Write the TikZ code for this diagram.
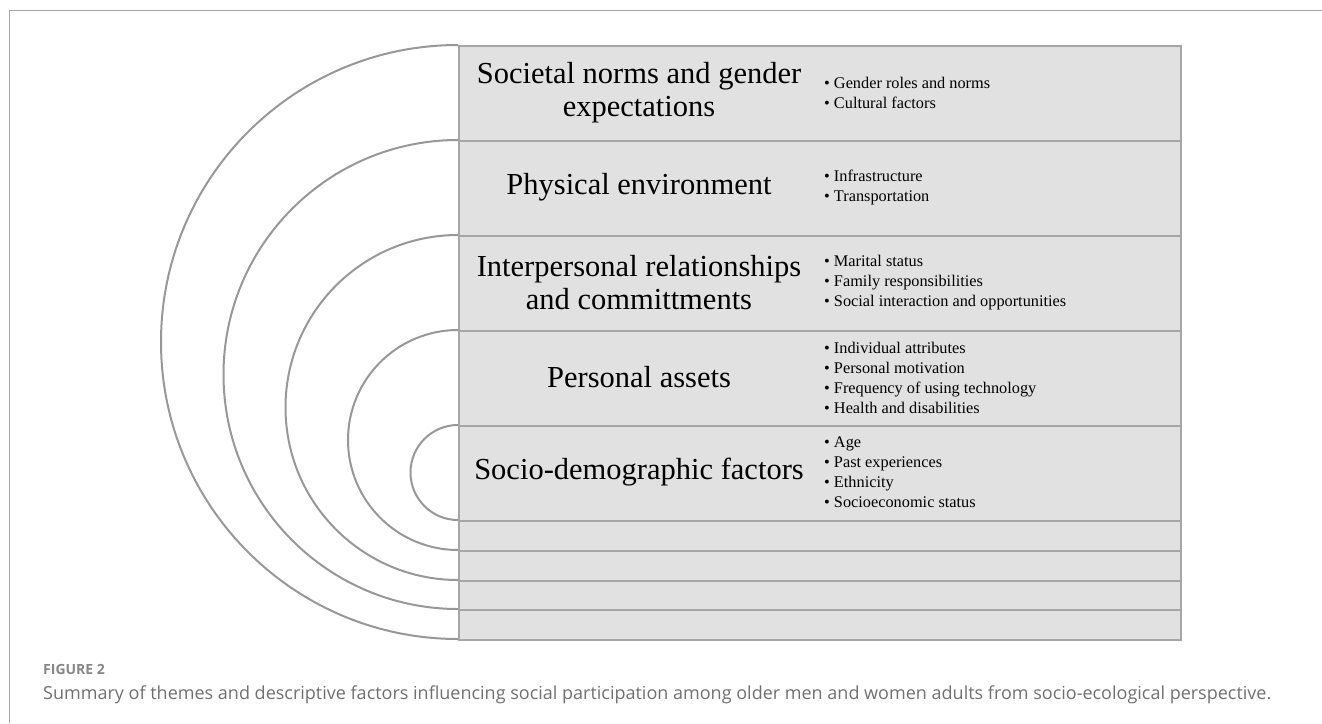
\documentclass[tikz,border=0pt]{standalone}
\usepackage{fontspec}
\setmainfont{Liberation Serif}
\newfontfamily\capfont{Open Sans}
\definecolor{boxfill}{RGB}{225,225,225}
\definecolor{boxline}{RGB}{166,166,166}
\definecolor{arcline}{RGB}{152,152,152}
\definecolor{framecol}{RGB}{165,165,165}
\definecolor{captxt}{RGB}{112,112,112}
\definecolor{figlbl}{RGB}{135,135,135}
\begin{document}
\begin{tikzpicture}[x=1pt,y=-1pt,
  rowbox/.style={draw=boxline, fill=boxfill, line width=2pt, minimum width=722pt, inner sep=0pt, anchor=north west},
  titletext/.style={font=\fontsize{30.5}{32.5}\selectfont, align=center, inner sep=0pt},
  bullets/.style={font=\fontsize{16.3}{20}\selectfont, align=left, inner sep=0pt, anchor=west},
  ring/.style={draw=arcline, line width=2pt},
  framestyle/.style={draw=framecol, line width=1pt}]
\useasboundingbox (0,0) rectangle (1322,723);
% frame
\coordinate (fbl) at (9,723);
\coordinate (ftl) at (9,10);
\coordinate (ftr) at (1322,10);
\draw[framestyle] (fbl) -- (ftl) -- (ftr);
% rows
\node[rowbox, minimum height=95pt] (r1) at (458,45) {};
\node[rowbox, minimum height=95pt] (r2) at (458,140) {};
\node[rowbox, minimum height=95pt] (r3) at (458,235) {};
\node[rowbox, minimum height=95pt] (r4) at (458,330) {};
\node[rowbox, minimum height=95pt] (r5) at (458,425) {};
\node[rowbox, minimum height=30pt] (s1) at (458,520) {};
\node[rowbox, minimum height=30pt] (s2) at (458,550) {};
\node[rowbox, minimum height=29pt] (s3) at (458,580) {};
\node[rowbox, minimum height=30pt] (s4) at (458,609) {};
% arcs
\draw[ring] (r1.north west) arc[start angle=-90, end angle=-270, radius=297];
\draw[ring] (r2.north west) arc[start angle=-90, end angle=-270, radius=234.5];
\draw[ring] (r3.north west) arc[start angle=-90, end angle=-270, radius=172.5];
\draw[ring] (r4.north west) arc[start angle=-90, end angle=-270, radius=110];
\draw[ring] (r5.north west) arc[start angle=-90, end angle=-270, radius=47.5];
% titles
\node[titletext] (t1) at (639,92.5) {Societal norms and gender\\expectations};
\node[titletext] (t2) at (639,187.5) {Physical environment};
\node[titletext] (t3) at (639,282.5) {Interpersonal relationships\\and committments};
\node[titletext] (t4) at (639,377.5) {Personal assets};
\node[titletext] (t5) at (639,472.5) {Socio-demographic factors};
% bullets
\node[bullets] (b1) at (824,92.5) {• Gender roles and norms\\• Cultural factors};
\node[bullets] (b2) at (824,187.5) {• Infrastructure\\• Transportation};
\node[bullets] (b3) at (824,282.5) {• Marital status\\• Family responsibilities\\• Social interaction and opportunities};
\node[bullets] (b4) at (824,377.5) {• Individual attributes\\• Personal motivation\\• Frequency of using technology\\• Health and disabilities};
\node[bullets] (b5) at (824,472.5) {• Age\\• Past experiences\\• Ethnicity\\• Socioeconomic status};
% caption
\node[anchor=base west, inner sep=0pt, text=figlbl, font=\capfont\bfseries\fontsize{14}{16}\selectfont] (fig) at (43,674) {FIGURE 2};
\node[anchor=base west, inner sep=0pt, text=captxt, font=\capfont\fontsize{18}{22}\selectfont] (cap) at (43,699) {Summary of themes and descriptive factors influencing social participation among older men and women adults from socio-ecological perspective.};
\end{tikzpicture}
\end{document}
